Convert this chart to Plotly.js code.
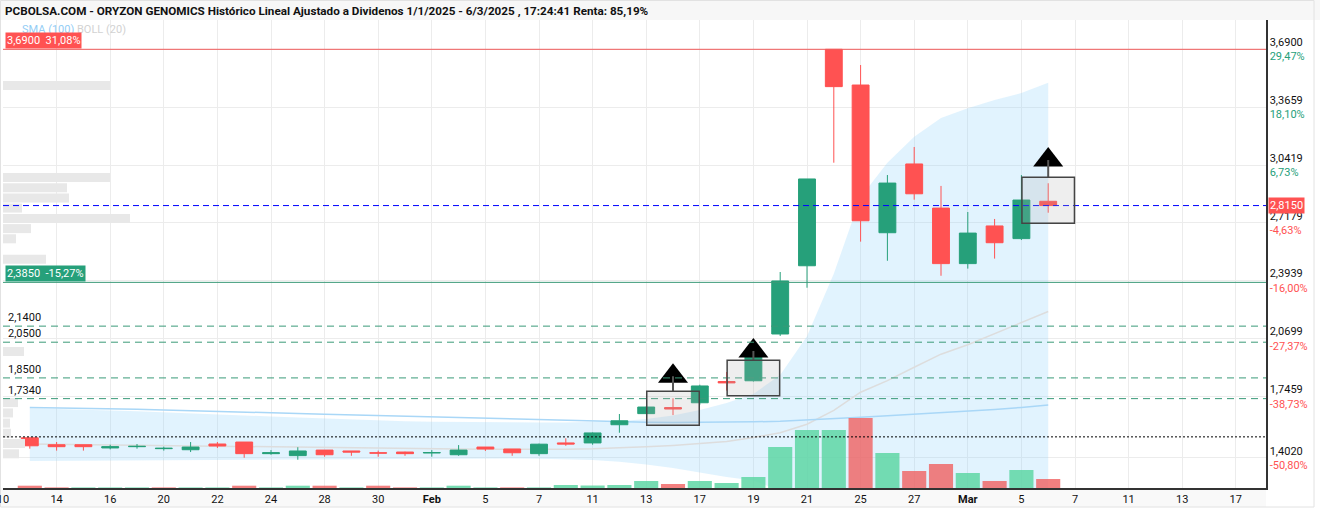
<!DOCTYPE html>
<html><head><meta charset="utf-8">
<script src="https://cdn.plot.ly/plotly-3.0.1.min.js"></script>
<style>html,body{margin:0;padding:0;background:#fff;}#chart{width:1320px;height:512px;}</style>
</head><body><div id="chart"></div>
<script>
// ---------- DATA ----------
const tradingDays = ["2025-01-10","2025-01-13","2025-01-14","2025-01-15","2025-01-16","2025-01-17","2025-01-20","2025-01-21","2025-01-22","2025-01-23","2025-01-24","2025-01-27","2025-01-28","2025-01-29","2025-01-30","2025-01-31","2025-02-03","2025-02-04","2025-02-05","2025-02-06","2025-02-07","2025-02-10","2025-02-11","2025-02-12","2025-02-13","2025-02-14","2025-02-17","2025-02-18","2025-02-19","2025-02-20","2025-02-21","2025-02-24","2025-02-25","2025-02-26","2025-02-27","2025-02-28","2025-03-03","2025-03-04","2025-03-05","2025-03-06","2025-03-07","2025-03-10","2025-03-11","2025-03-12","2025-03-13","2025-03-14","2025-03-17","2025-03-18"];
const tickDays = ["2025-01-10","2025-01-14","2025-01-16","2025-01-20","2025-01-22","2025-01-24","2025-01-28","2025-01-30","2025-02-03","2025-02-05","2025-02-07","2025-02-11","2025-02-13","2025-02-17","2025-02-19","2025-02-21","2025-02-25","2025-02-27","2025-03-03","2025-03-05","2025-03-07","2025-03-11","2025-03-13","2025-03-17"];
const tickLabels = ["10","14","16","20","22","24","28","30","<b>Feb</b>","5","7","11","13","17","19","21","25","27","<b>Mar</b>","5","7","11","13","17"];

const candleDates = ["2025-01-13","2025-01-14","2025-01-15","2025-01-16","2025-01-17","2025-01-20","2025-01-21","2025-01-22","2025-01-23","2025-01-24","2025-01-27","2025-01-28","2025-01-29","2025-01-30","2025-01-31","2025-02-03","2025-02-04","2025-02-05","2025-02-06","2025-02-07","2025-02-10","2025-02-11","2025-02-12","2025-02-13","2025-02-14","2025-02-17","2025-02-18","2025-02-19","2025-02-20","2025-02-21","2025-02-24","2025-02-25","2025-02-26","2025-02-27","2025-02-28","2025-03-03","2025-03-04","2025-03-05","2025-03-06"];
const openP  = [1.515,1.476,1.476,1.458,1.465,1.454,1.448,1.480,1.491,1.426,1.415,1.446,1.441,1.431,1.435,1.430,1.420,1.463,1.452,1.426,1.486,1.486,1.588,1.650,1.684,1.711,1.830,1.834,2.096,2.478,3.690,3.490,2.663,3.048,2.801,2.490,2.701,2.630,2.839];
const highP  = [1.515,1.491,1.476,1.476,1.480,1.465,1.491,1.491,1.491,1.446,1.462,1.446,1.441,1.443,1.437,1.446,1.474,1.463,1.452,1.482,1.512,1.545,1.648,1.690,1.736,1.812,1.883,1.990,2.443,2.964,3.690,3.602,2.986,3.143,2.925,2.779,2.740,2.986,2.940];
const lowP   = [1.454,1.443,1.443,1.450,1.454,1.443,1.435,1.458,1.403,1.420,1.392,1.409,1.414,1.409,1.414,1.409,1.414,1.441,1.414,1.414,1.470,1.476,1.543,1.648,1.642,1.700,1.779,1.830,2.085,2.355,3.055,2.613,2.506,2.848,2.422,2.462,2.518,2.622,2.775];
const closeP = [1.470,1.465,1.465,1.465,1.467,1.456,1.463,1.469,1.426,1.431,1.441,1.420,1.435,1.429,1.426,1.432,1.446,1.452,1.431,1.479,1.480,1.542,1.610,1.687,1.676,1.805,1.822,1.984,2.393,2.964,3.481,2.730,2.941,2.881,2.490,2.661,2.607,2.846,2.815];
const volume = [230,60,60,60,60,60,60,60,230,60,230,230,60,230,60,60,230,60,60,60,300,250,300,700,400,700,500,1100,4100,5800,5800,7000,3500,1700,2400,1500,700,1800,900];

const bbUpper  = [1.680,1.677,1.673,1.668,1.663,1.658,1.652,1.646,1.640,1.634,1.628,1.622,1.617,1.612,1.608,1.605,1.603,1.601,1.600,1.600,1.601,1.603,1.608,1.620,1.640,1.670,1.710,1.760,1.867,2.083,2.433,2.862,3.055,3.200,3.305,3.360,3.406,3.445,3.503];
const bbMiddle = [1.480,1.478,1.476,1.474,1.472,1.470,1.468,1.466,1.464,1.462,1.460,1.458,1.456,1.455,1.454,1.453,1.452,1.451,1.450,1.450,1.451,1.453,1.457,1.464,1.472,1.482,1.494,1.517,1.543,1.591,1.668,1.770,1.835,1.910,1.983,2.036,2.098,2.156,2.222];
const bbLower  = [1.385,1.386,1.387,1.388,1.389,1.390,1.391,1.392,1.393,1.394,1.395,1.396,1.397,1.398,1.399,1.400,1.400,1.400,1.399,1.398,1.396,1.390,1.380,1.365,1.345,1.320,1.295,1.275,1.219,1.099,0.903,0.680,0.615,0.620,0.660,0.710,0.790,0.870,0.940];
const sma100   = [1.685,1.683,1.680,1.677,1.674,1.670,1.667,1.663,1.659,1.655,1.651,1.647,1.643,1.639,1.635,1.631,1.627,1.623,1.619,1.615,1.611,1.607,1.604,1.602,1.601,1.601,1.602,1.604,1.608,1.614,1.622,1.630,1.638,1.646,1.655,1.664,1.673,1.685,1.698];

const profilePrices  = [3.488,2.972,2.915,2.858,2.801,2.743,2.686,2.629,2.514,1.998,1.712,1.654,1.597,1.540,1.483,1.425];
const profileVolumes = [107,107,64,66,19,127,28,13,43,21,15,10,7,8,22,16];

const priceTicks = [3.6900,3.3659,3.0419,2.7179,2.3939,2.0699,1.7459,1.4020];
const priceTickPct = ["29,47%","18,10%","6,73%","-4,63%","-16,00%","-27,37%","-38,73%","-50,80%"];

const maxPrice = 3.69, maxPct = "31,08%";
const minRefPrice = 2.385, minRefPct = "-15,27%";
const lastPrice = 2.815;
const startPrice = 1.52;
const levelPrices = [2.14, 2.05, 1.85, 1.734];

const patternDates = ["2025-02-14","2025-02-19","2025-03-06"];
const patternLow   = [1.585, 1.750, 2.716];
const patternHigh  = [1.775, 1.949, 2.973];
const signalPrice  = [1.859, 2.001, 3.070];

const titleText = "PCBOLSA.COM - ORYZON GENOMICS Histórico Lineal Ajustado a Dividenos 1/1/2025 - 6/3/2025 , 17:24:41 Renta: 85,19%";

// ---------- STYLE ----------
const GREEN = '#26a07a', RED = '#ff5252';
const W = 1320, H = 512, ML = 3, MR = 54, MT = 20, MB = 24;
const PW = W - ML - MR, PH = H - MT - MB;
const px2x = p => (p - ML) / PW;
const px2y = p => (H - MB - p) / PH;
const fmt = v => v.toFixed(4).replace('.', ',');
const FONT = 'Roboto, Arial, sans-serif';
const priceRange = [maxPrice - (H - MB - 49.3) / 178.6, maxPrice + (49.3 - MT) / 178.6];

const volColors = closeP.map((c, k) => {
  const prev = k === 0 ? openP[0] : closeP[k - 1];
  return c >= prev ? 'rgba(94,214,164,0.85)' : 'rgba(240,96,96,0.8)';
});

const traces = [
  {type:'scatter', mode:'lines', x:candleDates, y:bbUpper, line:{width:0, color:'rgba(0,0,0,0)'}, hoverinfo:'skip', showlegend:false},
  {type:'scatter', mode:'lines', x:candleDates, y:bbLower, fill:'tonexty', fillcolor:'rgba(135,206,250,0.25)', line:{width:0, color:'rgba(0,0,0,0)'}, hoverinfo:'skip', showlegend:false},
  {type:'scatter', mode:'lines', x:candleDates, y:bbMiddle, line:{width:1.5, color:'#dddddd'}, hoverinfo:'skip', showlegend:false},
  {type:'scatter', mode:'lines', x:candleDates, y:sma100, line:{width:1.5, color:'#a9d7f7'}, hoverinfo:'skip', showlegend:false},
  {type:'bar', orientation:'h', x:profileVolumes, y:profilePrices, xaxis:'x2', yaxis:'y',
   width:0.0504, marker:{color:'#e8e8e8', line:{width:0}}, hoverinfo:'skip', showlegend:false},
  {type:'bar', x:candleDates, y:volume, xaxis:'x', yaxis:'y2',
   marker:{color:volColors, line:{width:0}}, hoverinfo:'skip', showlegend:false},
  {type:'candlestick', x:candleDates, open:openP, high:highP, low:lowP, close:closeP, xaxis:'x', yaxis:'y3',
   increasing:{line:{color:GREEN, width:1}, fillcolor:GREEN},
   decreasing:{line:{color:RED, width:1}, fillcolor:RED},
   whiskerwidth:0, hoverinfo:'skip', showlegend:false},
  {type:'scatter', mode:'markers', x:patternDates, y:signalPrice, xaxis:'x', yaxis:'y3',
   marker:{symbol:'triangle-up', size:26, color:'#000'}, hoverinfo:'skip', showlegend:false}
];

const shapes = [
  {type:'rect', xref:'paper', yref:'paper', x0:px2x(0), x1:px2x(W), y0:px2y(MT), y1:px2y(0), fillcolor:'#f7f7f7', line:{width:0}, layer:'below'},
  {type:'rect', xref:'paper', yref:'paper', x0:px2x(0), x1:px2x(W-MR), y0:px2y(507), y1:px2y(H-MB), fillcolor:'#f9f9f9', line:{width:0}, layer:'below'},
  {type:'rect', xref:'paper', yref:'paper', x0:px2x(0.5), x1:px2x(1314), y0:px2y(507), y1:px2y(0.5), line:{width:1, color:'#e2e2e2'}, layer:'below'},
  {type:'line', xref:'paper', yref:'y', x0:0, x1:1, y0:maxPrice, y1:maxPrice, line:{color:'#f05a5a', width:1}},
  {type:'line', xref:'paper', yref:'y', x0:0, x1:1, y0:minRefPrice, y1:minRefPrice, line:{color:'#3a9a78', width:1}},
  {type:'line', xref:'paper', yref:'y', x0:0, x1:1, y0:lastPrice, y1:lastPrice, line:{color:'#0000ff', width:1, dash:'6px,4px'}},
  {type:'line', xref:'paper', yref:'y', x0:0, x1:1, y0:startPrice, y1:startPrice, line:{color:'#000', width:1, dash:'2px,2px'}}
];
levelPrices.forEach(p => shapes.push({type:'line', xref:'paper', yref:'y', x0:0, x1:1, y0:p, y1:p, line:{color:'#3a9a78', width:1, dash:'7px,5px'}}));
patternDates.forEach((d, k) => {
  const c = tradingDays.indexOf(d);
  shapes.push({type:'line', xref:'x', yref:'y', x0:c, x1:c, y0:signalPrice[k], y1:patternHigh[k], line:{color:'#555', width:2}});
  shapes.push({type:'rect', xref:'x', yref:'y', x0:c - 0.98, x1:c + 0.98, y0:patternLow[k], y1:patternHigh[k],
    fillcolor:'rgba(175,175,175,0.21)', line:{color:'#444', width:1.5}});
});

const annotations = [
  {xref:'paper', yref:'paper', x:px2x(20), y:px2y(29), xanchor:'left', yanchor:'middle', showarrow:false,
   text:'<span style="color:#93cdf5">SMA (100)</span> <span style="color:#d2d2d2">BOLL (20)</span>', font:{family:FONT, size:11, color:'#93cdf5'}},
  {xref:'paper', yref:'y', x:px2x(5), y:maxPrice, xanchor:'left', yanchor:'bottom', showarrow:false, text:fmt(maxPrice) + '&nbsp; ' + maxPct, bgcolor:RED, borderpad:1, font:{family:FONT, size:11, color:'#fff'}},
  {xref:'paper', yref:'y', x:px2x(5), y:minRefPrice, xanchor:'left', yanchor:'bottom', showarrow:false, text:fmt(minRefPrice) + '&nbsp; ' + minRefPct, bgcolor:GREEN, borderpad:1, font:{family:FONT, size:11, color:'#fff'}},
  {xref:'paper', yref:'y', x:1 + 2 / PW, y:lastPrice, xanchor:'left', yanchor:'middle', showarrow:false, text:fmt(lastPrice), bgcolor:RED, borderpad:1, font:{family:FONT, size:11, color:'#fff'}}
];
levelPrices.forEach(p => annotations.push({xref:'paper', yref:'y', x:px2x(6), y:p, xanchor:'left', yanchor:'bottom', showarrow:false, text:fmt(p), font:{family:FONT, size:11, color:'#111'}}));

const priceTickText = priceTicks.map((v, k) => fmt(v) + '<br><span style="color:' + (priceTickPct[k].startsWith('-') ? RED : GREEN) + '">' + priceTickPct[k] + '</span>');

const layout = {
  width:W, height:H, autosize:false,
  margin:{l:ML, r:MR, t:MT, b:MB, pad:0},
  paper_bgcolor:'#fff', plot_bgcolor:'#fff',
  showlegend:false, hovermode:false, dragmode:false,
  boxgap:0.1, bargap:0.1,
  title:{text:'<b>' + titleText + '</b>', x:5 / W, xref:'container', xanchor:'left', y:1 - 11 / H, yref:'container', yanchor:'middle', font:{family:FONT, size:11.7, color:'#111'}},
  xaxis:{type:'category', categoryorder:'array', categoryarray:tradingDays, range:[0, PW / 26.8],
    tickmode:'array', tickvals:tickDays, ticktext:tickLabels, tickangle:0,
    showgrid:true, gridcolor:'#ececec', gridwidth:1, showline:true, linecolor:'#333', linewidth:2,
    ticks:'', tickfont:{family:FONT, size:11, color:'#111'}, zeroline:false, rangeslider:{visible:false}, fixedrange:true},
  xaxis2:{overlaying:'x', range:[0, PW], visible:false, fixedrange:true},
  yaxis:{side:'right', range:priceRange,
    tickmode:'array', tickvals:priceTicks, ticktext:priceTickText,
    showgrid:true, gridcolor:'#ececec', gridwidth:1, showline:true, linecolor:'#333', linewidth:1.5,
    ticks:'', tickfont:{family:FONT, size:11, color:'#111'}, zeroline:false, fixedrange:true},
  yaxis2:{overlaying:'y', range:[0, 46800], visible:false, fixedrange:true},
  yaxis3:{overlaying:'y', side:'right', range:priceRange, visible:false, showgrid:false, zeroline:false, fixedrange:true},
  shapes:shapes, annotations:annotations
};

Plotly.newPlot('chart', traces, layout, {staticPlot:true, displayModeBar:false});
</script>
</body></html>
